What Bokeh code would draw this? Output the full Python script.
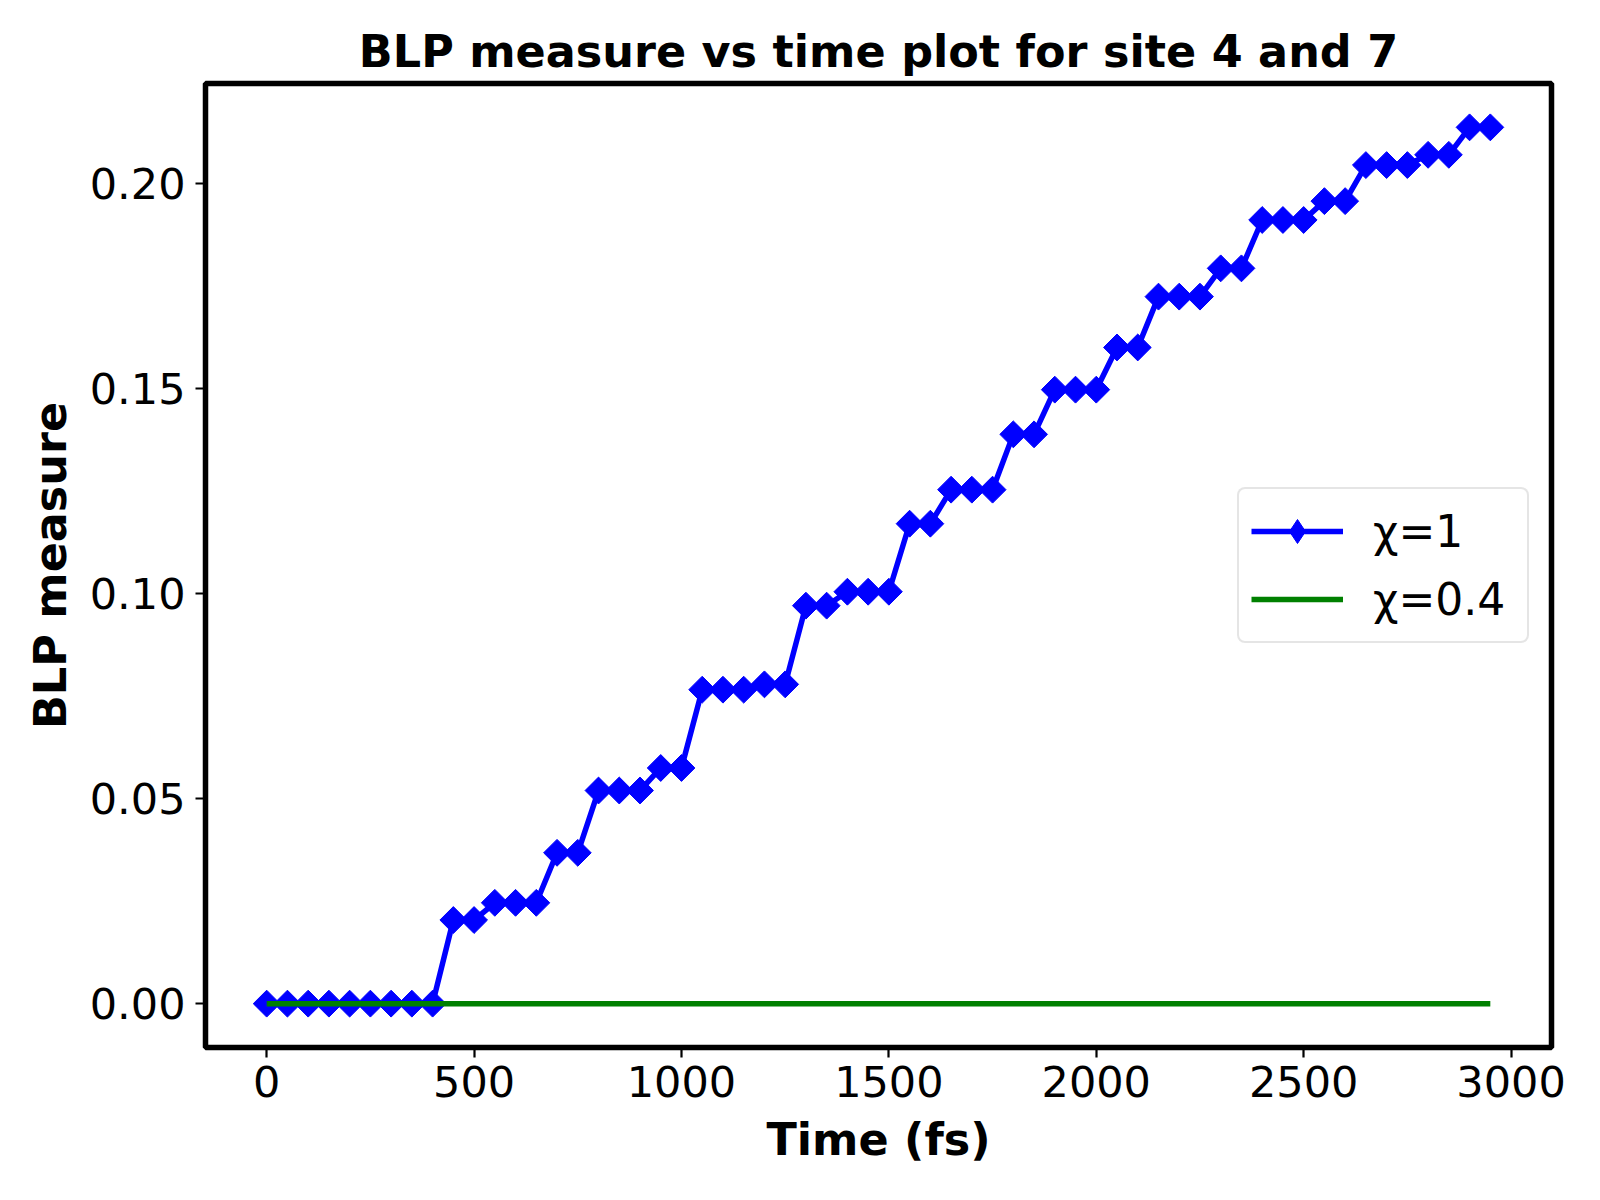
from bokeh.plotting import figure
from bokeh.models import FixedTicker, PrintfTickFormatter, Range1d, Legend, LegendItem
from bokeh.embed import file_html
from bokeh.resources import INLINE
import numpy as np

time_fs = [0, 50, 100, 150, 200, 250, 300, 350, 400, 450, 500, 550, 600, 650, 700,
           750, 800, 850, 900, 950, 1000, 1050, 1100, 1150, 1200, 1250, 1300, 1350,
           1400, 1450, 1500, 1550, 1600, 1650, 1700, 1750, 1800, 1850, 1900, 1950,
           2000, 2050, 2100, 2150, 2200, 2250, 2300, 2350, 2400, 2450, 2500, 2550,
           2600, 2650, 2700, 2750, 2800, 2850, 2900, 2950]

blp_chi1 = [0, 0, 0, 0, 0, 0, 0, 0, 0,
            0.0204, 0.0204,
            0.0246, 0.0246, 0.0246,
            0.0368, 0.0368,
            0.0520, 0.0520, 0.0520,
            0.0575, 0.0575,
            0.0766, 0.0766, 0.0766,
            0.0779, 0.0779,
            0.0971, 0.0971,
            0.1005, 0.1005, 0.1005,
            0.1171, 0.1171,
            0.1254, 0.1254, 0.1254,
            0.1389, 0.1389,
            0.1498, 0.1498, 0.1498,
            0.1601, 0.1601,
            0.1725, 0.1725, 0.1725,
            0.1794, 0.1794,
            0.1912, 0.1912, 0.1912,
            0.1958, 0.1958,
            0.2046, 0.2046, 0.2046,
            0.2071, 0.2071,
            0.2138, 0.2138]

blp_chi04 = [0.0] * len(time_fs)

x_ticks = [0, 500, 1000, 1500, 2000, 2500, 3000]
y_ticks = [0.0, 0.05, 0.10, 0.15, 0.20]

title_text = "BLP measure vs time plot for site 4 and 7"
x_label = "Time (fs)"
y_label = "BLP measure"
label_chi1 = "\u03c7=1"
label_chi04 = "\u03c7=0.4"

FONT = "DejaVu Sans"

p = figure(width=1584, height=1184, output_backend="svg", toolbar_location=None,
           x_range=Range1d(-147.5, 3097.5), y_range=Range1d(-0.0107, 0.2245),
           min_border_left=205, min_border_right=33, min_border_top=83,
           min_border_bottom=137)

p.title.text = title_text
p.title.text_font = FONT
p.title.text_font_size = "44.5px"
p.title.text_font_style = "bold"
p.title.align = "center"
p.title.text_color = "black"
p.title.standoff = 14

p.grid.visible = False
p.outline_line_color = "black"
p.outline_line_width = 5.5
p.outline_line_alpha = 1.0
p.background_fill_color = "white"
p.border_fill_color = "white"

for ax in (p.xaxis[0], p.yaxis[0]):
    ax.axis_line_color = None
    ax.major_tick_line_color = "black"
    ax.major_tick_line_width = 2.2
    ax.major_tick_out = 10
    ax.major_tick_in = 0
    ax.minor_tick_line_color = None
    ax.major_label_text_font = FONT
    ax.major_label_text_font_size = "43px"
    ax.major_label_text_color = "black"
    ax.axis_label_text_font = FONT
    ax.axis_label_text_font_size = "44.5px"
    ax.axis_label_text_font_style = "bold"
    ax.axis_label_text_color = "black"

p.xaxis[0].ticker = FixedTicker(ticks=x_ticks)
p.yaxis[0].ticker = FixedTicker(ticks=y_ticks)
p.yaxis[0].formatter = PrintfTickFormatter(format="%.2f")
p.xaxis[0].axis_label = x_label
p.yaxis[0].axis_label = y_label
p.xaxis[0].major_label_standoff = 8
p.yaxis[0].major_label_standoff = 10
p.xaxis[0].axis_label_standoff = 14
p.yaxis[0].axis_label_standoff = 11

blue_line = p.line(time_fs, blp_chi1, line_color="#0000ff", line_width=5.5)
p.scatter(time_fs, blp_chi1, marker="square", angle=np.pi / 4, size=19,
          fill_color="#0000ff", line_color="#0000ff", line_width=1)
# zero-size diamond renderer: only supplies the diamond symbol of the legend entry
legend_marker = p.scatter(time_fs, blp_chi1, marker="diamond", size=0,
                          fill_color="#0000ff", line_color="#0000ff", line_width=1)
green_line = p.line(time_fs, blp_chi04, line_color="#008000", line_width=5.5)

lg = Legend(items=[LegendItem(label=label_chi1, renderers=[blue_line, legend_marker]),
                   LegendItem(label=label_chi04, renderers=[green_line])])
lg.location = "right"
lg.margin = 22
lg.padding = 12
lg.spacing = 8
lg.glyph_width = 92
lg.glyph_height = 60
lg.label_height = 46
lg.label_width = 142
lg.label_standoff = 30
lg.label_text_font = FONT
lg.label_text_font_size = "44px"
lg.label_text_color = "black"
lg.border_line_color = "#cccccc"
lg.border_line_width = 2.5
lg.background_fill_color = "white"
lg.background_fill_alpha = 0.8
if "border_radius" in lg.properties():
    lg.border_radius = 8
p.add_layout(lg, "center")

open("out.html", "w").write(file_html(p, INLINE))
